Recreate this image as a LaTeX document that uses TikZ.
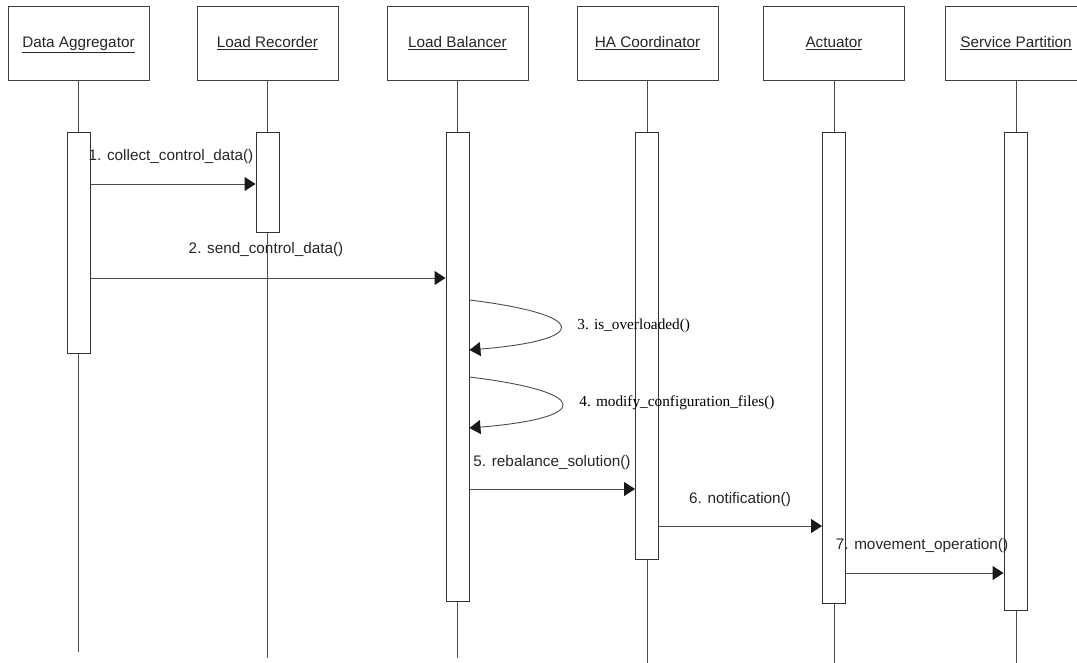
\documentclass[tikz,border=0pt]{standalone}
\usepackage{fontspec}
\setmainfont{Liberation Sans}
\newfontfamily\serifface{Liberation Serif}
\usetikzlibrary{arrows.meta}
\newcommand{\hdtext}[1]{\underline{#1}}
\begin{document}
\begin{tikzpicture}[x=1pt,y=-1pt,
  line width=0.9pt,
  head/.style={draw=black!75, fill=white, minimum width=141pt, minimum height=74pt, inner sep=0pt, text height=12pt, text depth=2pt, font=\fontsize{15.3}{18}\selectfont, text=black!85},
  act/.style={draw=black!80, fill=white, minimum width=23pt, inner sep=0pt},
  life/.style={draw=black!70},
  msg/.style={draw=black!70, -{Triangle[length=11pt,width=14pt,color=black!90]}},
  lbl/.style={font=\fontsize{15.3}{18}\selectfont, text=black!85, inner sep=0pt},
  slbl/.style={font=\serifface\fontsize{15.3}{18}\selectfont, text=black, inner sep=0pt, anchor=west}
]
\useasboundingbox (0,0) rectangle (1077,663);
\clip (0,0) rectangle (1077,663);

% heads
\node[head] (hDA)  at (78.5,43)  {\hdtext{Data Aggregator}};
\node[head] (hLR)  at (267.5,43) {\hdtext{Load Recorder}};
\node[head] (hLB)  at (457.5,43) {\hdtext{Load Balancer}};
\node[head] (hHA)  at (647.5,43) {\hdtext{HA Coordinator}};
\node[head] (hAC)  at (834,43)   {\hdtext{Actuator}};
\node[head] (hSP)  at (1016,43)  {\hdtext{Service Partition}};

% lifeline ends
\coordinate (eDA) at (78.5,652);
\coordinate (eLR) at (267.5,658);
\coordinate (eLB) at (457.5,658);
\coordinate (eHA) at (647.5,663);
\coordinate (eAC) at (834,663);
\coordinate (eSP) at (1016,663);

\draw[life] (hDA.south) -- (eDA);
\draw[life] (hLR.south) -- (eLR);
\draw[life] (hLB.south) -- (eLB);
\draw[life] (hHA.south) -- (eHA);
\draw[life] (hAC.south) -- (eAC);
\draw[life] (hSP.south) -- (eSP);

% activations
\node[act, minimum height=221pt] (aDA) at (78.5,242.5) {};
\node[act, minimum height=100pt] (aLR) at (267.5,182) {};
\node[act, minimum height=469pt] (aLB) at (457.5,366.5) {};
\node[act, minimum height=427pt] (aHA) at (647,345.5) {};
\node[act, minimum height=471pt] (aAC) at (834,367.5) {};
\node[act, minimum height=478pt] (aSP) at (1015.5,371) {};

% messages
\draw[msg] (aDA.east |- 0,184) -- (aLR.west |- 0,184);
\node[lbl] (m1) at (171,157) {1. collect\_control\_data()};

\draw[msg] (aDA.east |- 0,278) -- (aLB.west |- 0,278);
\node[lbl] (m2) at (266,250) {2. send\_control\_data()};

\coordinate (s3) at (aLB.east |- 0,300);
\coordinate (t3) at (aLB.east |- 0,350);
\draw[msg] (s3) .. controls +(121,15) and +(121,-10) .. (t3);
\node[slbl] (m3) at (577,326) {3. is\_overloaded()};

\coordinate (s4) at (aLB.east |- 0,377);
\coordinate (t4) at (aLB.east |- 0,428);
\draw[msg] (s4) .. controls +(123,15) and +(123,-10) .. (t4);
\node[slbl] (m4) at (579,403) {4. modify\_configuration\_files()};

\draw[msg] (aLB.east |- 0,489) -- (aHA.west |- 0,489);
\node[lbl] (m5) at (552,463) {5. rebalance\_solution()};

\draw[msg] (aHA.east |- 0,526) -- (aAC.west |- 0,526);
\node[lbl] (m6) at (740,500) {6. notification()};

\draw[msg] (aAC.east |- 0,573) -- (aSP.west |- 0,573);
\node[lbl] (m7) at (922,546) {7. movement\_operation()};
\end{tikzpicture}
\end{document}
